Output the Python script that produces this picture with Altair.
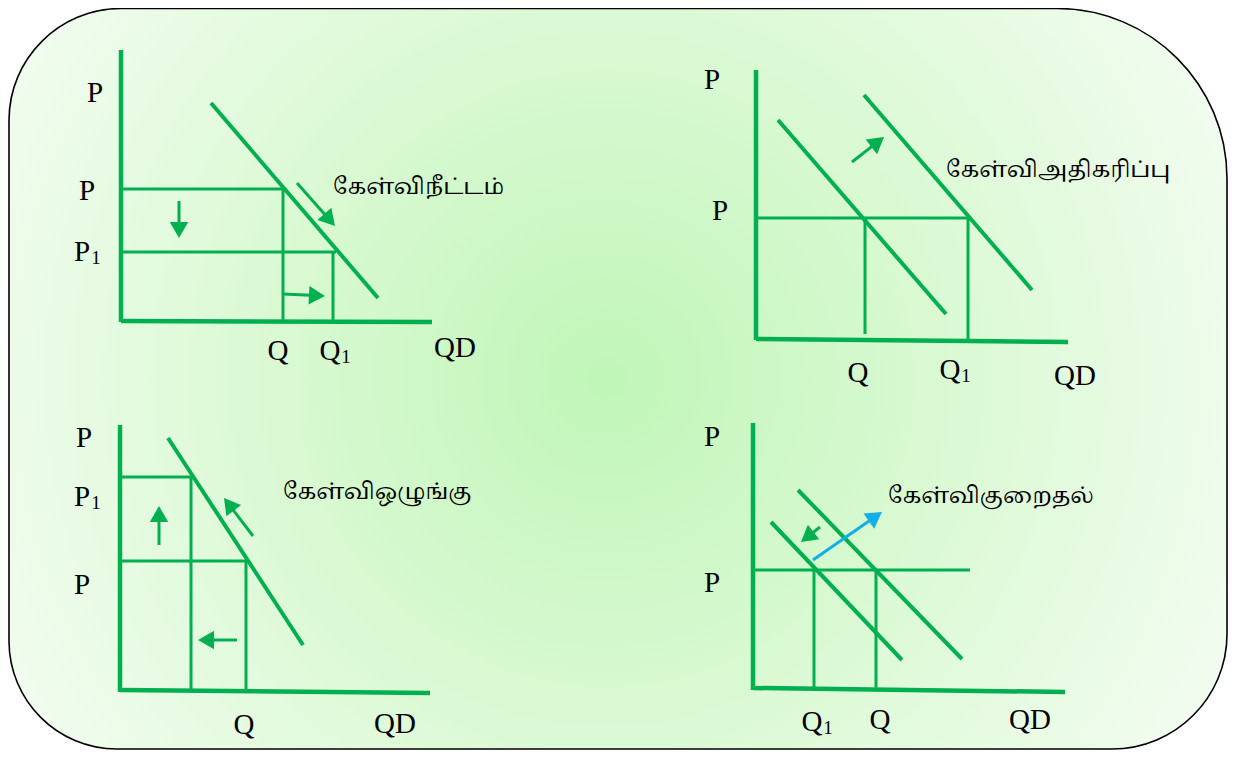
import math
import altair as alt
import pandas as pd

# ---------------- data (page-pixel frame) ----------------
# frame of the rounded panel
box_x = [9]
box_x2 = [1227]
box_y = [8.5]
box_y2 = [749]

# straight line segments: start x, start y, end x, end y, stroke weight class
seg_x1 = [121, 121, 211, 121, 121, 283, 333,
          756, 756, 778, 864, 756, 865, 968,
          120, 120, 168, 120, 120, 191, 246,
          753, 753, 771, 798, 753, 814, 876]
seg_y1 = [50, 321, 103, 189, 252, 189, 252,
          70, 339, 120, 95, 218, 218, 218,
          425, 690, 438, 477, 561, 477, 561,
          423, 688, 522, 490, 570, 570, 570]
seg_x2 = [121, 432, 378, 284, 336, 283, 333,
          756, 1068, 946, 1032, 968, 865, 968,
          120, 430, 303, 191, 248, 191, 246,
          753, 1065, 902, 962, 970, 814, 876]
seg_y2 = [322, 322, 298, 189, 252, 321, 321,
          340, 342, 314, 290, 218, 334, 340,
          692, 693, 645, 477, 561, 691, 691,
          690, 692, 660, 659, 570, 689, 690]
seg_w = [4.5, 4.5, 4, 3, 3, 3, 3,
         4.5, 4.5, 4, 4, 3, 3, 3,
         4.5, 4.5, 4, 3, 3, 3, 3,
         4.5, 4.5, 4, 4, 3, 3, 3]

# arrows: tail -> tip
arr_x0 = [179, 283, 297, 852, 159, 253, 237, 820, 813]
arr_y0 = [201, 294, 183, 162, 545, 536, 640, 527, 560]
arr_x1 = [179, 325, 335, 884, 159, 224, 198, 801, 882]
arr_y1 = [238, 296, 226, 137, 506, 498, 640, 542, 512]
arr_col = ["green", "green", "green", "green", "green", "green", "green", "green", "blue"]

# axis letters (centre positions)
lab_text = ["P", "P", "P", "Q", "Q", "QD",
            "P", "P", "Q", "Q", "QD",
            "P", "P", "P", "Q", "QD",
            "P", "P", "Q", "Q", "QD"]
lab_x = [95, 87, 82, 278, 330, 455,
         712, 720, 858, 950, 1075,
         84, 82, 82, 244, 395,
         712, 712, 812, 880, 1030]
lab_y = [93, 191, 252, 351, 351, 348,
         80, 211, 373, 370, 376,
         438, 497, 585, 725, 724,
         437, 583, 722, 720, 720]

# subscript "1" marks
sub_text = ["1", "1", "1", "1", "1"]
sub_x = [96, 346, 966, 96, 828]
sub_y = [258, 357, 376, 503, 728]

# Tamil captions (left edge, centre y)
cap_text = ["கேள்விநீட்டம்", "கேள்விஅதிகரிப்பு", "கேள்விஒழுங்கு", "கேள்விகுறைதல்"]
cap_x = [333, 946, 283, 888]
cap_y = [187, 170, 492, 496]

# ---------------- build tables ----------------
GREEN = "#00b050"
BLUE = "#12aee8"

box_df = pd.DataFrame({"x": box_x, "x2": box_x2, "y": box_y, "y2": box_y2})
seg_df = pd.DataFrame({"x": seg_x1, "y": seg_y1, "x2": seg_x2, "y2": seg_y2, "w": seg_w})

HEAD_W = 18.5
HEAD_SIZE = HEAD_W ** 2
hh = math.sqrt(3) * HEAD_W / 4   # half the head length (vega triangle-up)
rows = []
for x0, y0, x1, y1, c in zip(arr_x0, arr_y0, arr_x1, arr_y1, arr_col):
    dx, dy = x1 - x0, y1 - y0
    L = math.hypot(dx, dy)
    ux, uy = dx / L, dy / L
    cx, cy = x1 - hh * ux, y1 - hh * uy
    sx, sy = x1 - (2 * hh - 2) * ux, y1 - (2 * hh - 2) * uy
    ang = math.degrees(math.atan2(dx, -dy)) % 360
    rows.append({"x0": x0, "y0": y0, "sx": sx, "sy": sy, "cx": cx, "cy": cy,
                 "ang": ang, "col": GREEN if c == "green" else BLUE})
arr_df = pd.DataFrame(rows)

lab_df = pd.DataFrame({"t": lab_text, "x": lab_x, "y": lab_y})
sub_df = pd.DataFrame({"t": sub_text, "x": sub_x, "y": sub_y})
cap_df = pd.DataFrame({"t": cap_text, "x": cap_x, "y": cap_y})

# ---------------- scales ----------------
W, H = 1220, 742
xs = alt.Scale(domain=[8, 8 + W], nice=False, zero=False)
ys = alt.Scale(domain=[8, 8 + H], nice=False, zero=False, reverse=True)


def X(f):
    return alt.X(f, type="quantitative", scale=xs, axis=None)


def Y(f):
    return alt.Y(f, type="quantitative", scale=ys, axis=None)


gradient = {
    "gradient": "radial",
    "x1": 0.49, "y1": 0.5, "r1": 0,
    "x2": 0.49, "y2": 0.5, "r2": 0.62,
    "stops": [
        {"offset": 0, "color": "#c0f6b8"},
        {"offset": 0.45, "color": "#daf9d3"},
        {"offset": 1, "color": "#f7fdf6"},
    ],
}

frame = alt.Chart(box_df).mark_rect(
    fill=gradient, stroke="black", strokeWidth=1.6,
    cornerRadiusTopLeft=112, cornerRadiusTopRight=170,
    cornerRadiusBottomRight=115, cornerRadiusBottomLeft=108,
).encode(x=X("x"), x2="x2", y=Y("y"), y2="y2")

segments = alt.Chart(seg_df).mark_rule(color=GREEN, strokeCap="butt").encode(
    x=X("x"), y=Y("y"), x2="x2", y2="y2",
    strokeWidth=alt.StrokeWidth("w:Q", scale=None, legend=None),
)

shafts = alt.Chart(arr_df).mark_rule(strokeWidth=3).encode(
    x=X("x0"), y=Y("y0"), x2="sx", y2="sy",
    color=alt.Color("col:N", scale=None, legend=None),
)

heads = alt.Chart(arr_df).mark_point(
    shape="triangle-up", filled=True, opacity=1, size=HEAD_SIZE
).encode(
    x=X("cx"), y=Y("cy"),
    angle=alt.Angle("ang:Q", scale=None),
    color=alt.Color("col:N", scale=None, legend=None),
)

labels = alt.Chart(lab_df).mark_text(
    font="Liberation Serif", fontSize=29, color="black", baseline="middle", align="center"
).encode(x=X("x"), y=Y("y"), text="t:N")

subs = alt.Chart(sub_df).mark_text(
    font="Liberation Serif", fontSize=19, color="black", baseline="middle", align="center"
).encode(x=X("x"), y=Y("y"), text="t:N")

captions = alt.Chart(cap_df).mark_text(
    font="Latha, 'Noto Serif Tamil', 'Noto Sans Tamil', 'Lohit Tamil', serif",
    fontSize=22.3, color="black", baseline="middle", align="left"
).encode(x=X("x"), y=Y("y"), text="t:N")

chart = alt.layer(frame, segments, shafts, heads, labels, subs, captions).properties(
    width=W, height=H, padding=0, autosize="none", background="white"
).configure_view(stroke=None)

chart.save("out.html", embed_options={"renderer": "svg", "actions": False})
